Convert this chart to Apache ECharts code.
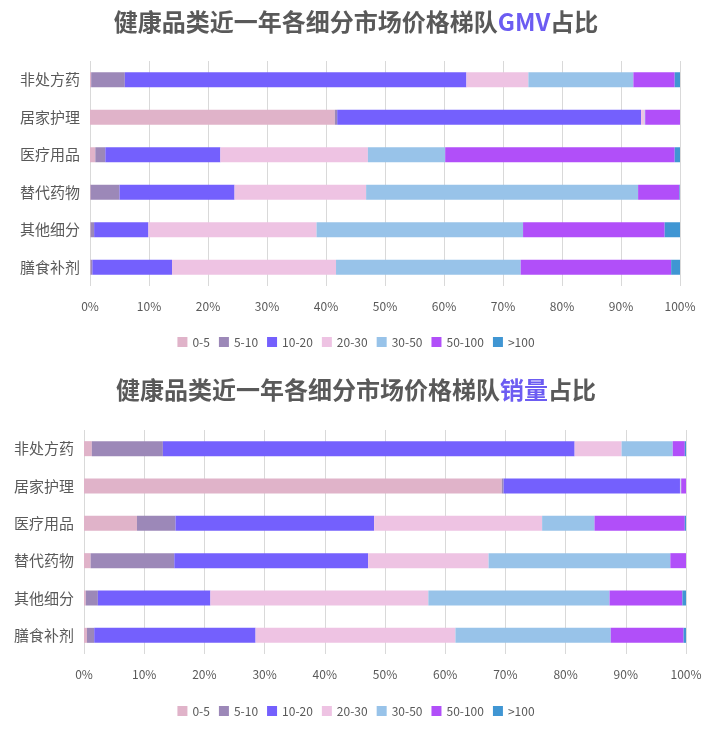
<!DOCTYPE html>
<html>
<head>
<meta charset="utf-8">
<script src="https://cdn.jsdelivr.net/npm/echarts@6/dist/echarts.min.js"></script>
<style>
  html, body { margin: 0; padding: 0; background: #fff; }
  #main { width: 712px; height: 732px; }
</style>
</head>
<body>
<div id="main"></div>
<script>
// 细分市场（自上而下）
const categories = ['非处方药', '居家护理', '医疗用品', '替代药物', '其他细分', '膳食补剂'];
const tiers = ['0-5', '5-10', '10-20', '20-30', '30-50', '50-100', '>100'];
const colors = ['#e0b3c9', '#9c88b8', '#7460fd', '#eec3e3', '#98c3e9', '#b14ff9', '#4096d3'];

// GMV占比（%），每个价格梯队一行，顺序同 categories
const gmv05 = [0.2, 41.5, 0.9, 0.1, 0.1, 0.1];
const gmv510 = [5.7, 0.4, 1.7, 4.9, 0.6, 0.3];
const gmv1020 = [57.9, 51.5, 19.5, 19.5, 9.2, 13.5];
const gmv2030 = [10.5, 0.6, 25.0, 22.3, 28.5, 27.8];
const gmv3050 = [17.8, 0.1, 13.1, 46.1, 35.0, 31.3];
const gmv50100 = [7.0, 5.9, 38.9, 7.0, 24.0, 25.5];
const gmv100 = [0.9, 0, 0.9, 0.2, 2.7, 1.5];

// 销量占比（%）
const vol05 = [1.3, 69.4, 8.8, 1.1, 0.3, 0.5];
const vol510 = [11.8, 0.3, 6.4, 13.9, 2.0, 1.2];
const vol1020 = [68.4, 29.3, 33.0, 32.2, 18.7, 26.8];
const vol2030 = [7.8, 0.1, 27.9, 20.0, 36.2, 33.2];
const vol3050 = [8.5, 0.1, 8.7, 30.2, 30.1, 25.8];
const vol50100 = [2.0, 0.8, 15.0, 2.6, 12.1, 12.1];
const vol100 = [0.2, 0, 0.2, 0, 0.6, 0.4];

const xTicks = ['0%', '10%', '20%', '30%', '40%', '50%', '60%', '70%', '80%', '90%', '100%'];

const gmvData = [gmv05, gmv510, gmv1020, gmv2030, gmv3050, gmv50100, gmv100];
const volData = [vol05, vol510, vol1020, vol2030, vol3050, vol50100, vol100];

const chart = echarts.init(document.getElementById('main'));
const textColor = '#595959';
const font = '"Noto Sans CJK SC", "Noto Sans", sans-serif';

function makeX(gridIndex) {
  return {
    type: 'value',
    gridIndex: gridIndex,
    min: 0,
    max: 100,
    interval: 10,
    axisLine: { show: false },
    axisTick: { show: false },
    splitLine: { lineStyle: { color: '#d9d9d9', width: 1 } },
    axisLabel: {
      color: textColor,
      fontSize: 12,
      fontFamily: font,
      margin: 14,
      formatter: function (v) { return xTicks[Math.round(v / 10)]; },
    },
  };
}

function makeY(gridIndex) {
  return {
    type: 'category',
    gridIndex: gridIndex,
    inverse: true,
    data: categories,
    axisLine: { show: false },
    axisTick: { show: false },
    axisLabel: { color: textColor, fontSize: 15, fontFamily: font, margin: 10 },
  };
}

const series = [];
[gmvData, volData].forEach(function (set, gi) {
  set.forEach(function (vals, i) {
    series.push({
      name: tiers[i],
      type: 'bar',
      stack: 'total' + gi,
      xAxisIndex: gi,
      yAxisIndex: gi,
      barWidth: 15,
      itemStyle: { color: colors[i] },
      data: vals,
    });
  });
});

function makeTitle(top, key) {
  return {
    text: '{a|健康品类近一年各细分市场价格梯队}{b|' + key + '}{a|占比}',
    left: 'center',
    top: top,
    textStyle: {
      rich: {
        a: { fontSize: 24, fontWeight: 'bold', color: textColor, fontFamily: font },
        b: { fontSize: 24, fontWeight: 'bold', color: '#6c5cf2', fontFamily: font },
      },
    },
  };
}

function makeLegend(top) {
  return {
    data: tiers,
    top: top,
    left: 'center',
    icon: 'rect',
    itemWidth: 10,
    itemHeight: 10,
    itemGap: 9,
    textStyle: { color: textColor, fontSize: 12, fontFamily: font },
  };
}

chart.setOption({
  animation: false,
  color: colors,
  title: [makeTitle(5, 'GMV'), makeTitle(373, '销量')],
  legend: [makeLegend(331), makeLegend(700)],
  grid: [
    { left: 90, right: 32, top: 61, height: 225 },
    { left: 84, right: 26, top: 430, height: 224 },
  ],
  xAxis: [makeX(0), makeX(1)],
  yAxis: [makeY(0), makeY(1)],
  series: series,
});
</script>
</body>
</html>
